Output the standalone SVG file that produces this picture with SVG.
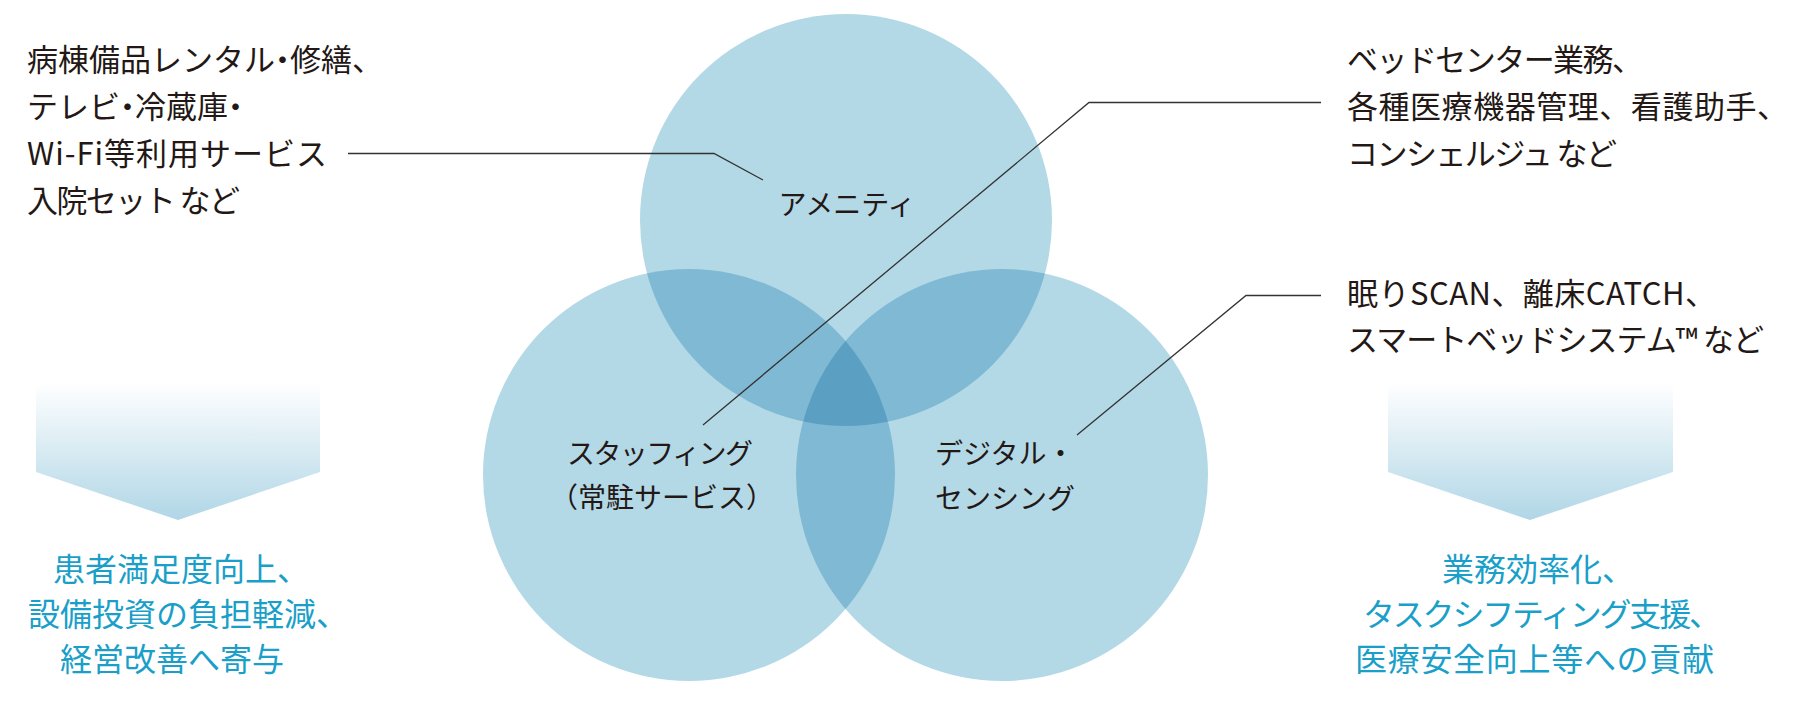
<svg xmlns="http://www.w3.org/2000/svg" width="1804" height="728" viewBox="0 0 1804 728">
<style>
.blk{font-family:"Noto Sans CJK JP","Noto Sans",sans-serif;font-size:31px;fill:#231815}
.lbl{font-family:"Noto Sans CJK JP","Noto Sans",sans-serif;font-size:28px;fill:#231815}
.res{font-family:"Noto Sans CJK JP","Noto Sans",sans-serif;font-size:32px;fill:#1a9fc9}
.c1{fill:#b3d9e7}
.c2{fill:#80b9d3}
.c3{fill:#5ba0c3}
.con{fill:none;stroke:#333;stroke-width:1.3}
.chev{fill:url(#gr)}
</style>
<defs>
<linearGradient id="gr" x1="0" y1="0" x2="0" y2="1">
<stop offset="0" stop-color="#ffffff"/>
<stop offset="1" stop-color="#b0d6e6"/>
</linearGradient>
<clipPath id="clipA"><circle cx="846" cy="220" r="206"/></clipPath>
<clipPath id="clipB"><circle cx="689" cy="475" r="206"/></clipPath>
</defs>
<rect width="1804" height="728" fill="#ffffff"/>

<g id="circles">
<g id="node-amenity">
<circle class="c1" cx="846" cy="220" r="206"/>
</g>
<g id="node-staffing">
<circle class="c1" cx="689" cy="475" r="206"/>
</g>
<g id="node-digital">
<circle class="c1" cx="1002" cy="475" r="206"/>
</g>
<g id="overlaps">
<circle class="c2" cx="689" cy="475" r="206" clip-path="url(#clipA)"/>
<circle class="c2" cx="1002" cy="475" r="206" clip-path="url(#clipA)"/>
<circle class="c2" cx="1002" cy="475" r="206" clip-path="url(#clipB)"/>
<g clip-path="url(#clipA)"><circle class="c3" cx="1002" cy="475" r="206" clip-path="url(#clipB)"/></g>
</g>
<g id="labels">
<text class="lbl" x="847" y="215" text-anchor="middle">アメニティ</text>
<text class="lbl" x="567" y="464" textLength="186" lengthAdjust="spacing">スタッフィング</text>
<text class="lbl" x="662" y="508" text-anchor="middle">（常駐サービス）</text>
<text class="lbl" x="935" y="464">デジタル・</text>
<text class="lbl" x="935" y="509">センシング</text>
</g>
</g>

<g id="connectors">
<polyline class="con" points="348,153.5 714,153.5 763,180"/>
<polyline class="con" points="1321,102.5 1089,102.5 703,425"/>
<polyline class="con" points="1321,295.5 1246,295.5 1077,435"/>
</g>

<g id="note-amenity">
<text class="blk" x="27" y="71" dx="0 0 0 0 0 0 0 0 -8 -8">病棟備品レンタル・修繕、</text>
<text class="blk" x="27" y="118" dx="0 0 0 -8 -8 0 0 -8">テレビ・冷蔵庫・</text>
<text class="blk" x="27" y="165" textLength="300" lengthAdjust="spacing">Wi-Fi等利用サービス</text>
<text class="blk" x="27" y="212" textLength="213" lengthAdjust="spacing">入院セット など</text>
</g>
<g id="note-staffing">
<text class="blk" x="1347" y="71" textLength="296" lengthAdjust="spacing">ベッドセンター業務、</text>
<text class="blk" x="1347" y="118" textLength="441" lengthAdjust="spacing">各種医療機器管理、看護助手、</text>
<text class="blk" x="1347" y="165" textLength="270" lengthAdjust="spacing">コンシェルジュ など</text>
</g>
<g id="note-digital">
<text class="blk" x="1347" y="305" textLength="369" lengthAdjust="spacing">眠りSCAN、離床CATCH、</text>
<text class="blk" x="1347" y="351" textLength="417" lengthAdjust="spacing">スマートベッドシステム™ など</text>
</g>

<g id="result-left">
<polygon class="chev" points="36,383 320,383 320,472 178,520 36,472"/>
<text class="res" x="53" y="581">患者満足度向上、</text>
<text class="res" x="28" y="626">設備投資の負担軽減、</text>
<text class="res" x="60" y="671">経営改善へ寄与</text>
</g>
<g id="result-right">
<polygon class="chev" points="1388,383 1673,383 1673,472 1530,520 1388,472"/>
<text class="res" x="1442" y="581">業務効率化、</text>
<text class="res" x="1363" y="626" textLength="358" lengthAdjust="spacing">タスクシフティング支援、</text>
<text class="res" x="1355" y="671" textLength="359" lengthAdjust="spacing">医療安全向上等への貢献</text>
</g>
</svg>
